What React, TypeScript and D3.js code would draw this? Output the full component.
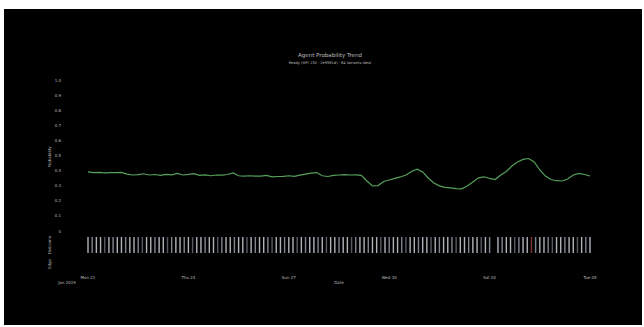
import React from "react";
import * as d3 from "d3";

const title = "Agent Probability Trend";
const subtitle = "Ready (MPI 130 · 2e9981d) · 64 Variants Ideal";
const yLabel = "Probability";
const xLabel = "Date";
const stripLabels = ["Outcome", "Edge"];
const yearLabel = "Jan 2019";

const startDate = new Date(2019, 0, 21);
const endDate = new Date(2019, 1, 5);
const stepHours = 4;
const probability = [
  0.391, 0.387, 0.388, 0.385, 0.387, 0.386, 0.388, 0.377, 0.371, 0.373,
  0.379, 0.371, 0.374, 0.369, 0.375, 0.372, 0.381, 0.371, 0.375, 0.38,
  0.368, 0.372, 0.366, 0.371, 0.37, 0.374, 0.385, 0.366, 0.364, 0.366,
  0.363, 0.364, 0.368, 0.359, 0.361, 0.362, 0.366, 0.362, 0.37, 0.377,
  0.383, 0.387, 0.366, 0.361, 0.368, 0.371, 0.373, 0.371, 0.372, 0.368,
  0.331, 0.298, 0.301, 0.328, 0.338, 0.349, 0.358, 0.371, 0.394, 0.409,
  0.391, 0.351, 0.318, 0.299, 0.289, 0.285, 0.281, 0.279, 0.298, 0.325,
  0.352, 0.359, 0.348, 0.341, 0.371, 0.394, 0.43, 0.457, 0.474, 0.48,
  0.457, 0.404, 0.364, 0.341, 0.333, 0.331, 0.344, 0.371, 0.381, 0.374,
  0.364,
];

const outcomeStepHours = 3;
const outcomes = (
  "LMLLDLMLLM" + "LLMDLLMLLD" + "MLLMLDLLML" + "LDMLLMLLDL" + "MLLMDLLMLL" +
  "DLMLLMLDLL" + "MLLDMLLMLL" + "DLMLLMDLLM" + "LLDLMLLMDL" + "LMLLDLM.LM" +
  "LLDMLLRMLL" + "MDLLMLLDLM" + "L"
).split("");

const tickDates = ["2019-01-21", "2019-01-24", "2019-01-27", "2019-01-30", "2019-02-02", "2019-02-05"];
const yTicks = [0, 0.1, 0.2, 0.3, 0.4, 0.5, 0.6, 0.7, 0.8, 0.9, 1.0];

const outcomeColors: Record<string, string> = {
  L: "#aeb3bb",
  M: "#7f8591",
  D: "#565b66",
  R: "#7e3434",
};

export default function App() {
  const W = 644, H = 327;
  const x = d3.scaleTime().domain([startDate, endDate]).range([88, 590]);
  const y = d3.scaleLinear().domain([0, 1]).range([231, 80]);
  const hour = 3600 * 1000;
  const pts = probability.map((v, i) => ({ t: new Date(startDate.getTime() + i * stepHours * hour), v }));
  const line = d3
    .line<{ t: Date; v: number }>()
    .x((d) => x(d.t))
    .y((d) => y(d.v))
    .curve(d3.curveLinear);
  const fmt = d3.timeFormat("%a %d");
  const parse = d3.timeParse("%Y-%m-%d");
  const txt = "#bdbdbd";
  const font = "DejaVu Sans, sans-serif";

  return (
    <svg width={W} height={H} style={{ position: "absolute", left: 0, top: 0 }} fontFamily={font}>
      <rect x={0} y={0} width={W} height={H} fill="#fff" />
      <rect x={4} y={9} width={638} height={316} fill="#000" />
      <text x={330} y={57} textAnchor="middle" fontSize={5.5} fill={txt}>
        {title}
      </text>
      <text x={330} y={64} textAnchor="middle" fontSize={3.6} fill={txt}>
        {subtitle}
      </text>
      {yTicks.map((t) => (
        <text key={t} x={61} y={y(t) + 1.5} textAnchor="end" fontSize={4} fill={txt}>
          {t === 0 ? "0" : t.toFixed(1)}
        </text>
      ))}
      <text transform={`translate(51,157) rotate(-90)`} textAnchor="middle" fontSize={4} fill={txt}>
        {yLabel}
      </text>
      <text transform={`translate(51,245) rotate(-90)`} textAnchor="middle" fontSize={4} fill={txt}>
        {stripLabels[0]}
      </text>
      <text transform={`translate(51,264) rotate(-90)`} textAnchor="middle" fontSize={4} fill={txt}>
        {stripLabels[1]}
      </text>
      <path d={line(pts) || ""} fill="none" stroke="#56a05b" strokeWidth={1.2} />
      {outcomes.map((o, i) =>
        o === "." ? null : (
          <rect
            key={i}
            x={x(new Date(startDate.getTime() + i * outcomeStepHours * hour)) - 0.7}
            y={237}
            width={1.4}
            height={16}
            fill={outcomeColors[o]}
          />
        )
      )}
      {tickDates.map((s) => {
        const d = parse(s)!;
        return (
          <text key={s} x={x(d)} y={279} textAnchor="middle" fontSize={4} fill={txt}>
            {fmt(d)}
          </text>
        );
      })}
      <text x={67} y={284} textAnchor="middle" fontSize={4} fill={txt}>
        {yearLabel}
      </text>
      <text x={339} y={284} textAnchor="middle" fontSize={4} fill={txt}>
        {xLabel}
      </text>
    </svg>
  );
}
